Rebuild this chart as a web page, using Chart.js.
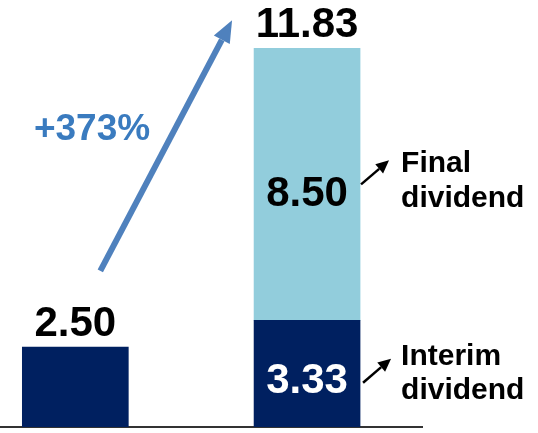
<!DOCTYPE html>
<html>
<head>
<meta charset="utf-8">
<script src="https://cdn.jsdelivr.net/npm/chart.js@4"></script>
<style>
  body { margin: 0; background: #fff; }
  #wrap { width: 538px; height: 433px; }
</style>
</head>
<body>
<div id="wrap"><canvas id="divChart" width="538" height="433"></canvas></div>
<script>
// dividend per share, previous year vs current year
var categories = ["Previous year", "Current year"];
var interimValues = [2.50, 3.33];
var finalValues = [null, 8.50];
var seriesNames = ["Interim dividend", "Final dividend"];

var navy = '#002060';
var lightBlue = '#92CDDC';
var FONT = '"Liberation Sans", Arial, sans-serif';

function totalFor(i) {
    return interimValues[i] + (finalValues[i] || 0);
}

function arrow(ctx, x1, y1, x2, y2, color, width, headLen, headW) {
    var a = Math.atan2(y2 - y1, x2 - x1);
    var bx = x2 - Math.cos(a) * headLen, by = y2 - Math.sin(a) * headLen;
    ctx.save();
    ctx.strokeStyle = color;
    ctx.fillStyle = color;
    ctx.lineWidth = width;
    ctx.beginPath();
    ctx.moveTo(x1, y1);
    ctx.lineTo(bx, by);
    ctx.stroke();
    ctx.beginPath();
    ctx.moveTo(x2, y2);
    ctx.lineTo(bx + Math.sin(a) * headW / 2, by - Math.cos(a) * headW / 2);
    ctx.lineTo(bx - Math.sin(a) * headW / 2, by + Math.cos(a) * headW / 2);
    ctx.closePath();
    ctx.fill();
    ctx.restore();
}

var labelsPlugin = {
    id: 'labels',
    afterDraw: function(chart) {
        var ctx = chart.ctx;
        var xs = chart.scales.x, ys = chart.scales.y;
        ctx.save();
        ctx.textAlign = 'center';
        ctx.textBaseline = 'alphabetic';
        ctx.font = 'bold 42px ' + FONT;

        for (var i = 0; i < categories.length; i++) {
            var cx = xs.getPixelForValue(i);
            var tot = totalFor(i);
            ctx.fillStyle = '#000';
            ctx.fillText(tot.toFixed(2), cx, ys.getPixelForValue(tot) - 11);
            if (finalValues[i] != null) {
                var midInt = (ys.getPixelForValue(0) + ys.getPixelForValue(interimValues[i])) / 2;
                var midFin = (ys.getPixelForValue(interimValues[i]) + ys.getPixelForValue(tot)) / 2;
                ctx.fillStyle = '#fff';
                ctx.fillText(interimValues[i].toFixed(2), cx, midInt + 19);
                ctx.fillStyle = '#000';
                ctx.fillText(finalValues[i].toFixed(2), cx, midFin + 22);

                // legend callouts to the right of the stacked bar
                var right = cx + 53;
                arrow(ctx, right + 1, midFin, right + 29, midFin - 24, '#000', 2.5, 13, 12);
                arrow(ctx, right + 3, midInt + 9, right + 31, midInt - 15, '#000', 2.5, 13, 12);
                ctx.textAlign = 'left';
                ctx.font = 'bold 30px ' + FONT;
                ctx.fillText('Final', right + 41, midFin - 12);
                ctx.fillText('dividend', right + 41, midFin + 23);
                ctx.fillText('Interim', right + 41, midInt - 9);
                ctx.fillText('dividend', right + 41, midInt + 25);
                ctx.textAlign = 'center';
                ctx.font = 'bold 42px ' + FONT;
            }
        }

        // growth arrow from first to second bar
        var x0 = xs.getPixelForValue(0), x1 = xs.getPixelForValue(1);
        var y0 = ys.getPixelForValue(totalFor(0)), y1 = ys.getPixelForValue(totalFor(1));
        arrow(ctx, x0 + 25, y0 - 76, x1 - 75, y1 - 28, '#4F81BD', 6, 22, 18);
        var growth = Math.round((totalFor(1) / totalFor(0) - 1) * 100);
        ctx.fillStyle = '#3A7BBF';
        ctx.font = 'bold 37px ' + FONT;
        ctx.textBaseline = 'alphabetic';
        ctx.fillText('+' + growth + '%', 92, 140);
        ctx.restore();
    }
};

var ctx = document.getElementById("divChart");
var myChart = new Chart(ctx, {
    type: 'bar',
    data: {
        datasets: [{
            label: seriesNames[0],
            data: categories.map(function(c, i) { return {x: i, y: interimValues[i]}; }),
            backgroundColor: navy,
            borderWidth: 0,
            barThickness: 106,
            stack: 'div'
        }, {
            label: seriesNames[1],
            data: categories.map(function(c, i) { return {x: i, y: finalValues[i]}; }),
            backgroundColor: lightBlue,
            borderWidth: 0,
            barThickness: 106,
            stack: 'div'
        }]
    },
    options: {
        responsive: false,
        animation: false,
        layout: { padding: { left: 0, right: 116, top: 0, bottom: 6 } },
        plugins: {
            legend: { display: false },
            tooltip: { enabled: false }
        },
        scales: {
            x: {
                type: 'linear',
                offset: false,
                min: -0.325,
                max: 1.496,
                grid: { display: false, drawTicks: false, offset: false },
                ticks: { display: false },
                border: { display: true, color: '#333', width: 2 }
            },
            y: {
                display: false,
                stacked: true,
                min: 0,
                max: 13.34
            }
        }
    },
    plugins: [labelsPlugin]
});
</script>
</body>
</html>
